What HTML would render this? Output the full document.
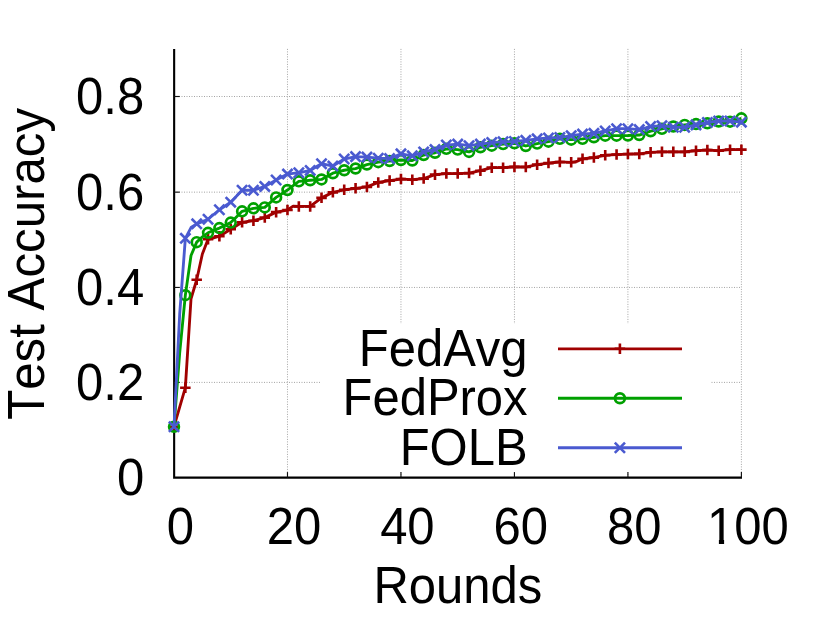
<!DOCTYPE html>
<html><head><meta charset="utf-8"><title>Test Accuracy vs Rounds</title>
<style>
html,body{margin:0;padding:0;background:#fff;}
body{width:830px;height:621px;overflow:hidden;}
svg{display:block;}
text{font-family:"Liberation Sans",sans-serif;font-size:49px;fill:#000;font-kerning:none;}
</style></head><body>
<svg width="830" height="621" viewBox="0 0 830 621">
<rect x="0" y="0" width="830" height="621" fill="#fff"/>
<g stroke="#a4a4a4" stroke-width="1" stroke-dasharray="1 1.5" fill="none"><line x1="287.48" y1="48.90" x2="287.48" y2="477.75"/><line x1="400.96" y1="48.90" x2="400.96" y2="477.75"/><line x1="514.44" y1="48.90" x2="514.44" y2="477.75"/><line x1="627.92" y1="48.90" x2="627.92" y2="477.75"/><line x1="741.40" y1="48.90" x2="741.40" y2="477.75"/><line x1="174.00" y1="382.40" x2="741.40" y2="382.40"/><line x1="174.00" y1="287.45" x2="741.40" y2="287.45"/><line x1="174.00" y1="192.15" x2="741.40" y2="192.15"/><line x1="174.00" y1="96.50" x2="741.40" y2="96.50"/></g>
<rect x="321" y="324" width="390" height="148" fill="#fff"/>
<path d="M174.15 48.90V477.60H742.00" stroke="#000" stroke-width="2.1" fill="none" stroke-linejoin="miter"/>
<g stroke="#111" stroke-width="1.15" fill="none">
<line x1="287.48" y1="477.60" x2="287.48" y2="472.10"/>
<line x1="400.96" y1="477.60" x2="400.96" y2="472.10"/>
<line x1="514.44" y1="477.60" x2="514.44" y2="472.10"/>
<line x1="627.92" y1="477.60" x2="627.92" y2="472.10"/>
<line x1="741.40" y1="477.60" x2="741.40" y2="472.10"/>
<line x1="174.15" y1="382.40" x2="179.75" y2="382.40"/>
<line x1="174.15" y1="287.45" x2="179.75" y2="287.45"/>
<line x1="174.15" y1="192.15" x2="179.75" y2="192.15"/>
<line x1="174.15" y1="96.50" x2="179.75" y2="96.50"/>
</g>
<polyline points="174.00,426.72 179.67,407.21 185.35,387.69 191.02,298.77 196.70,279.73 202.37,254.03 208.04,239.27 213.72,237.75 219.39,236.23 225.07,232.75 230.74,229.28 236.41,225.80 242.09,222.33 247.76,221.52 253.44,220.71 259.11,219.16 264.78,217.62 270.46,214.88 276.13,212.14 281.81,211.07 287.48,210.00 293.15,206.19 298.83,206.43 304.50,206.43 310.18,206.43 315.85,202.15 321.52,197.86 327.20,195.10 332.87,192.34 338.55,191.06 344.22,189.77 349.89,189.06 355.57,188.34 361.24,187.63 366.92,186.91 372.59,184.65 378.26,182.39 383.94,181.49 389.61,180.58 395.29,179.80 400.96,179.01 406.63,179.39 412.31,179.77 417.98,179.18 423.66,178.58 429.33,176.61 435.00,174.63 440.68,174.11 446.35,173.59 452.03,173.59 457.70,173.59 463.37,173.35 469.05,173.11 474.72,171.92 480.40,170.73 486.07,169.18 491.74,167.64 497.42,167.64 503.09,167.64 508.77,167.28 514.44,166.92 520.11,166.97 525.79,167.02 531.46,165.83 537.14,164.64 542.81,163.88 548.48,163.11 554.16,162.54 559.83,161.97 565.51,162.14 571.18,162.30 576.85,161.45 582.53,158.83 588.20,158.21 593.88,157.59 599.55,156.43 605.22,155.26 610.90,154.90 616.57,154.55 622.25,154.31 627.92,154.07 633.59,153.97 639.27,153.88 644.94,153.09 650.62,152.31 656.29,152.07 661.96,151.83 667.64,151.83 673.31,151.83 678.99,151.83 684.66,151.83 690.33,151.29 696.01,150.74 701.68,150.36 707.36,149.98 713.03,150.36 718.70,150.74 724.38,150.19 730.05,149.64 735.73,149.64 741.40,149.64" fill="none" stroke="#a00000" stroke-width="2.85" stroke-linejoin="round"/>
<path d="M168.75 426.72H179.25M174.00 421.47V431.97" stroke="#a00000" stroke-width="2.6" fill="none"/><path d="M180.10 387.69H190.60M185.35 382.44V392.94" stroke="#a00000" stroke-width="2.6" fill="none"/><path d="M191.45 279.73H201.95M196.70 274.48V284.98" stroke="#a00000" stroke-width="2.6" fill="none"/><path d="M202.79 239.27H213.29M208.04 234.02V244.52" stroke="#a00000" stroke-width="2.6" fill="none"/><path d="M214.14 236.23H224.64M219.39 230.98V241.48" stroke="#a00000" stroke-width="2.6" fill="none"/><path d="M225.49 229.28H235.99M230.74 224.03V234.53" stroke="#a00000" stroke-width="2.6" fill="none"/><path d="M236.84 222.33H247.34M242.09 217.08V227.58" stroke="#a00000" stroke-width="2.6" fill="none"/><path d="M248.19 220.71H258.69M253.44 215.46V225.96" stroke="#a00000" stroke-width="2.6" fill="none"/><path d="M259.53 217.62H270.03M264.78 212.37V222.87" stroke="#a00000" stroke-width="2.6" fill="none"/><path d="M270.88 212.14H281.38M276.13 206.89V217.39" stroke="#a00000" stroke-width="2.6" fill="none"/><path d="M282.23 210.00H292.73M287.48 204.75V215.25" stroke="#a00000" stroke-width="2.6" fill="none"/><path d="M293.58 206.43H304.08M298.83 201.18V211.68" stroke="#a00000" stroke-width="2.6" fill="none"/><path d="M304.93 206.43H315.43M310.18 201.18V211.68" stroke="#a00000" stroke-width="2.6" fill="none"/><path d="M316.27 197.86H326.77M321.52 192.61V203.11" stroke="#a00000" stroke-width="2.6" fill="none"/><path d="M327.62 192.34H338.12M332.87 187.09V197.59" stroke="#a00000" stroke-width="2.6" fill="none"/><path d="M338.97 189.77H349.47M344.22 184.52V195.02" stroke="#a00000" stroke-width="2.6" fill="none"/><path d="M350.32 188.34H360.82M355.57 183.09V193.59" stroke="#a00000" stroke-width="2.6" fill="none"/><path d="M361.67 186.91H372.17M366.92 181.66V192.16" stroke="#a00000" stroke-width="2.6" fill="none"/><path d="M373.01 182.39H383.51M378.26 177.14V187.64" stroke="#a00000" stroke-width="2.6" fill="none"/><path d="M384.36 180.58H394.86M389.61 175.33V185.83" stroke="#a00000" stroke-width="2.6" fill="none"/><path d="M395.71 179.01H406.21M400.96 173.76V184.26" stroke="#a00000" stroke-width="2.6" fill="none"/><path d="M407.06 179.77H417.56M412.31 174.52V185.02" stroke="#a00000" stroke-width="2.6" fill="none"/><path d="M418.41 178.58H428.91M423.66 173.33V183.83" stroke="#a00000" stroke-width="2.6" fill="none"/><path d="M429.75 174.63H440.25M435.00 169.38V179.88" stroke="#a00000" stroke-width="2.6" fill="none"/><path d="M441.10 173.59H451.60M446.35 168.34V178.84" stroke="#a00000" stroke-width="2.6" fill="none"/><path d="M452.45 173.59H462.95M457.70 168.34V178.84" stroke="#a00000" stroke-width="2.6" fill="none"/><path d="M463.80 173.11H474.30M469.05 167.86V178.36" stroke="#a00000" stroke-width="2.6" fill="none"/><path d="M475.15 170.73H485.65M480.40 165.48V175.98" stroke="#a00000" stroke-width="2.6" fill="none"/><path d="M486.49 167.64H496.99M491.74 162.39V172.89" stroke="#a00000" stroke-width="2.6" fill="none"/><path d="M497.84 167.64H508.34M503.09 162.39V172.89" stroke="#a00000" stroke-width="2.6" fill="none"/><path d="M509.19 166.92H519.69M514.44 161.67V172.17" stroke="#a00000" stroke-width="2.6" fill="none"/><path d="M520.54 167.02H531.04M525.79 161.77V172.27" stroke="#a00000" stroke-width="2.6" fill="none"/><path d="M531.89 164.64H542.39M537.14 159.39V169.89" stroke="#a00000" stroke-width="2.6" fill="none"/><path d="M543.23 163.11H553.73M548.48 157.86V168.36" stroke="#a00000" stroke-width="2.6" fill="none"/><path d="M554.58 161.97H565.08M559.83 156.72V167.22" stroke="#a00000" stroke-width="2.6" fill="none"/><path d="M565.93 162.30H576.43M571.18 157.05V167.55" stroke="#a00000" stroke-width="2.6" fill="none"/><path d="M577.28 158.83H587.78M582.53 153.58V164.08" stroke="#a00000" stroke-width="2.6" fill="none"/><path d="M588.63 157.59H599.13M593.88 152.34V162.84" stroke="#a00000" stroke-width="2.6" fill="none"/><path d="M599.97 155.26H610.47M605.22 150.01V160.51" stroke="#a00000" stroke-width="2.6" fill="none"/><path d="M611.32 154.55H621.82M616.57 149.30V159.80" stroke="#a00000" stroke-width="2.6" fill="none"/><path d="M622.67 154.07H633.17M627.92 148.82V159.32" stroke="#a00000" stroke-width="2.6" fill="none"/><path d="M634.02 153.88H644.52M639.27 148.63V159.13" stroke="#a00000" stroke-width="2.6" fill="none"/><path d="M645.37 152.31H655.87M650.62 147.06V157.56" stroke="#a00000" stroke-width="2.6" fill="none"/><path d="M656.71 151.83H667.21M661.96 146.58V157.08" stroke="#a00000" stroke-width="2.6" fill="none"/><path d="M668.06 151.83H678.56M673.31 146.58V157.08" stroke="#a00000" stroke-width="2.6" fill="none"/><path d="M679.41 151.83H689.91M684.66 146.58V157.08" stroke="#a00000" stroke-width="2.6" fill="none"/><path d="M690.76 150.74H701.26M696.01 145.49V155.99" stroke="#a00000" stroke-width="2.6" fill="none"/><path d="M702.11 149.98H712.61M707.36 144.73V155.23" stroke="#a00000" stroke-width="2.6" fill="none"/><path d="M713.45 150.74H723.95M718.70 145.49V155.99" stroke="#a00000" stroke-width="2.6" fill="none"/><path d="M724.80 149.64H735.30M730.05 144.39V154.89" stroke="#a00000" stroke-width="2.6" fill="none"/><path d="M736.15 149.64H746.65M741.40 144.39V154.89" stroke="#a00000" stroke-width="2.6" fill="none"/>
<polyline points="174.00,426.72 179.67,353.04 185.35,295.16 191.02,255.46 196.70,242.13 202.37,236.89 208.04,232.80 213.72,230.44 219.39,228.09 225.07,225.35 230.74,222.61 236.41,216.97 242.09,211.33 247.76,209.83 253.44,208.33 259.11,207.86 264.78,207.38 270.46,202.38 276.13,197.39 281.81,193.70 287.48,190.01 293.15,185.68 298.83,181.34 304.50,180.80 310.18,180.25 315.85,179.85 321.52,179.44 327.20,176.32 332.87,173.21 338.55,171.73 344.22,170.25 349.89,169.40 355.57,168.54 361.24,166.54 366.92,164.54 372.59,163.35 378.26,162.16 383.94,161.57 389.61,160.97 395.29,160.50 400.96,160.02 406.63,160.28 412.31,160.54 417.98,157.78 423.66,155.02 429.33,153.88 435.00,152.74 440.68,150.79 446.35,148.83 452.03,149.21 457.70,149.60 463.37,150.76 469.05,151.93 474.72,149.60 480.40,147.26 486.07,146.48 491.74,145.69 497.42,144.91 503.09,144.12 508.77,143.74 514.44,143.36 520.11,144.67 525.79,145.98 531.46,144.79 537.14,143.60 542.81,142.65 548.48,141.69 554.16,140.27 559.83,138.84 565.51,139.24 571.18,139.65 576.85,139.24 582.53,138.84 588.20,138.05 593.88,137.27 599.55,136.46 605.22,135.65 610.90,135.65 616.57,135.65 622.25,135.58 627.92,135.51 633.59,135.27 639.27,135.03 644.94,133.13 650.62,131.22 656.29,130.03 661.96,128.84 667.64,127.65 673.31,126.46 678.99,125.68 684.66,124.89 690.33,124.49 696.01,124.08 701.68,123.72 707.36,123.37 713.03,122.42 718.70,121.46 724.38,121.58 730.05,121.70 735.73,120.04 741.40,118.37" fill="none" stroke="#00a000" stroke-width="2.85" stroke-linejoin="round"/>
<circle cx="174.00" cy="426.72" r="4.9" stroke="#00a000" stroke-width="2.7" fill="none"/><circle cx="185.35" cy="295.16" r="4.9" stroke="#00a000" stroke-width="2.7" fill="none"/><circle cx="196.70" cy="242.13" r="4.9" stroke="#00a000" stroke-width="2.7" fill="none"/><circle cx="208.04" cy="232.80" r="4.9" stroke="#00a000" stroke-width="2.7" fill="none"/><circle cx="219.39" cy="228.09" r="4.9" stroke="#00a000" stroke-width="2.7" fill="none"/><circle cx="230.74" cy="222.61" r="4.9" stroke="#00a000" stroke-width="2.7" fill="none"/><circle cx="242.09" cy="211.33" r="4.9" stroke="#00a000" stroke-width="2.7" fill="none"/><circle cx="253.44" cy="208.33" r="4.9" stroke="#00a000" stroke-width="2.7" fill="none"/><circle cx="264.78" cy="207.38" r="4.9" stroke="#00a000" stroke-width="2.7" fill="none"/><circle cx="276.13" cy="197.39" r="4.9" stroke="#00a000" stroke-width="2.7" fill="none"/><circle cx="287.48" cy="190.01" r="4.9" stroke="#00a000" stroke-width="2.7" fill="none"/><circle cx="298.83" cy="181.34" r="4.9" stroke="#00a000" stroke-width="2.7" fill="none"/><circle cx="310.18" cy="180.25" r="4.9" stroke="#00a000" stroke-width="2.7" fill="none"/><circle cx="321.52" cy="179.44" r="4.9" stroke="#00a000" stroke-width="2.7" fill="none"/><circle cx="332.87" cy="173.21" r="4.9" stroke="#00a000" stroke-width="2.7" fill="none"/><circle cx="344.22" cy="170.25" r="4.9" stroke="#00a000" stroke-width="2.7" fill="none"/><circle cx="355.57" cy="168.54" r="4.9" stroke="#00a000" stroke-width="2.7" fill="none"/><circle cx="366.92" cy="164.54" r="4.9" stroke="#00a000" stroke-width="2.7" fill="none"/><circle cx="378.26" cy="162.16" r="4.9" stroke="#00a000" stroke-width="2.7" fill="none"/><circle cx="389.61" cy="160.97" r="4.9" stroke="#00a000" stroke-width="2.7" fill="none"/><circle cx="400.96" cy="160.02" r="4.9" stroke="#00a000" stroke-width="2.7" fill="none"/><circle cx="412.31" cy="160.54" r="4.9" stroke="#00a000" stroke-width="2.7" fill="none"/><circle cx="423.66" cy="155.02" r="4.9" stroke="#00a000" stroke-width="2.7" fill="none"/><circle cx="435.00" cy="152.74" r="4.9" stroke="#00a000" stroke-width="2.7" fill="none"/><circle cx="446.35" cy="148.83" r="4.9" stroke="#00a000" stroke-width="2.7" fill="none"/><circle cx="457.70" cy="149.60" r="4.9" stroke="#00a000" stroke-width="2.7" fill="none"/><circle cx="469.05" cy="151.93" r="4.9" stroke="#00a000" stroke-width="2.7" fill="none"/><circle cx="480.40" cy="147.26" r="4.9" stroke="#00a000" stroke-width="2.7" fill="none"/><circle cx="491.74" cy="145.69" r="4.9" stroke="#00a000" stroke-width="2.7" fill="none"/><circle cx="503.09" cy="144.12" r="4.9" stroke="#00a000" stroke-width="2.7" fill="none"/><circle cx="514.44" cy="143.36" r="4.9" stroke="#00a000" stroke-width="2.7" fill="none"/><circle cx="525.79" cy="145.98" r="4.9" stroke="#00a000" stroke-width="2.7" fill="none"/><circle cx="537.14" cy="143.60" r="4.9" stroke="#00a000" stroke-width="2.7" fill="none"/><circle cx="548.48" cy="141.69" r="4.9" stroke="#00a000" stroke-width="2.7" fill="none"/><circle cx="559.83" cy="138.84" r="4.9" stroke="#00a000" stroke-width="2.7" fill="none"/><circle cx="571.18" cy="139.65" r="4.9" stroke="#00a000" stroke-width="2.7" fill="none"/><circle cx="582.53" cy="138.84" r="4.9" stroke="#00a000" stroke-width="2.7" fill="none"/><circle cx="593.88" cy="137.27" r="4.9" stroke="#00a000" stroke-width="2.7" fill="none"/><circle cx="605.22" cy="135.65" r="4.9" stroke="#00a000" stroke-width="2.7" fill="none"/><circle cx="616.57" cy="135.65" r="4.9" stroke="#00a000" stroke-width="2.7" fill="none"/><circle cx="627.92" cy="135.51" r="4.9" stroke="#00a000" stroke-width="2.7" fill="none"/><circle cx="639.27" cy="135.03" r="4.9" stroke="#00a000" stroke-width="2.7" fill="none"/><circle cx="650.62" cy="131.22" r="4.9" stroke="#00a000" stroke-width="2.7" fill="none"/><circle cx="661.96" cy="128.84" r="4.9" stroke="#00a000" stroke-width="2.7" fill="none"/><circle cx="673.31" cy="126.46" r="4.9" stroke="#00a000" stroke-width="2.7" fill="none"/><circle cx="684.66" cy="124.89" r="4.9" stroke="#00a000" stroke-width="2.7" fill="none"/><circle cx="696.01" cy="124.08" r="4.9" stroke="#00a000" stroke-width="2.7" fill="none"/><circle cx="707.36" cy="123.37" r="4.9" stroke="#00a000" stroke-width="2.7" fill="none"/><circle cx="718.70" cy="121.46" r="4.9" stroke="#00a000" stroke-width="2.7" fill="none"/><circle cx="730.05" cy="121.70" r="4.9" stroke="#00a000" stroke-width="2.7" fill="none"/><circle cx="741.40" cy="118.37" r="4.9" stroke="#00a000" stroke-width="2.7" fill="none"/>
<polyline points="174.00,426.72 179.67,314.48 185.35,238.32 191.02,227.56 196.70,223.85 202.37,221.57 208.04,219.28 213.72,214.52 219.39,209.76 225.07,205.95 230.74,202.15 236.41,196.20 242.09,190.25 247.76,190.25 253.44,190.25 259.11,188.34 264.78,186.44 270.46,183.23 276.13,180.01 281.81,177.04 287.48,174.06 293.15,173.40 298.83,172.73 304.50,171.56 310.18,170.40 315.85,167.06 321.52,163.73 327.20,164.90 332.87,166.07 338.55,162.54 344.22,159.02 349.89,157.83 355.57,156.64 361.24,156.88 366.92,157.12 372.59,157.69 378.26,158.26 383.94,158.45 389.61,158.64 395.29,156.24 400.96,153.83 406.63,154.83 412.31,155.83 417.98,153.88 423.66,151.93 429.33,150.76 435.00,149.60 440.68,147.31 446.35,145.03 452.03,144.55 457.70,144.07 463.37,144.88 469.05,145.69 474.72,144.88 480.40,144.07 486.07,143.31 491.74,142.55 497.42,142.17 503.09,141.79 508.77,141.62 514.44,141.46 520.11,140.91 525.79,140.36 531.46,139.60 537.14,138.84 542.81,138.43 548.48,138.03 554.16,137.79 559.83,137.55 565.51,136.60 571.18,135.65 576.85,134.86 582.53,134.08 588.20,133.72 593.88,133.36 599.55,132.17 605.22,130.98 610.90,129.82 616.57,128.65 622.25,128.70 627.92,128.75 633.59,129.18 639.27,129.60 644.94,128.03 650.62,126.46 656.29,126.06 661.96,125.65 667.64,126.46 673.31,127.27 678.99,127.27 684.66,127.27 690.33,126.08 696.01,124.89 701.68,123.70 707.36,122.51 713.03,121.75 718.70,120.99 724.38,120.99 730.05,120.99 735.73,121.58 741.40,122.18" fill="none" stroke="#4a5ad0" stroke-width="2.85" stroke-linejoin="round"/>
<path d="M168.90 421.62L179.10 431.82M168.90 431.82L179.10 421.62" stroke="#4a5ad0" stroke-width="2.6" fill="none"/><path d="M180.25 233.22L190.45 243.42M180.25 243.42L190.45 233.22" stroke="#4a5ad0" stroke-width="2.6" fill="none"/><path d="M191.60 218.75L201.80 228.95M191.60 228.95L201.80 218.75" stroke="#4a5ad0" stroke-width="2.6" fill="none"/><path d="M202.94 214.18L213.14 224.38M202.94 224.38L213.14 214.18" stroke="#4a5ad0" stroke-width="2.6" fill="none"/><path d="M214.29 204.66L224.49 214.86M214.29 214.86L224.49 204.66" stroke="#4a5ad0" stroke-width="2.6" fill="none"/><path d="M225.64 197.05L235.84 207.25M225.64 207.25L235.84 197.05" stroke="#4a5ad0" stroke-width="2.6" fill="none"/><path d="M236.99 185.15L247.19 195.35M236.99 195.35L247.19 185.15" stroke="#4a5ad0" stroke-width="2.6" fill="none"/><path d="M248.34 185.15L258.54 195.35M248.34 195.35L258.54 185.15" stroke="#4a5ad0" stroke-width="2.6" fill="none"/><path d="M259.68 181.34L269.88 191.54M259.68 191.54L269.88 181.34" stroke="#4a5ad0" stroke-width="2.6" fill="none"/><path d="M271.03 174.91L281.23 185.11M271.03 185.11L281.23 174.91" stroke="#4a5ad0" stroke-width="2.6" fill="none"/><path d="M282.38 168.96L292.58 179.16M282.38 179.16L292.58 168.96" stroke="#4a5ad0" stroke-width="2.6" fill="none"/><path d="M293.73 167.63L303.93 177.83M293.73 177.83L303.93 167.63" stroke="#4a5ad0" stroke-width="2.6" fill="none"/><path d="M305.08 165.30L315.28 175.50M305.08 175.50L315.28 165.30" stroke="#4a5ad0" stroke-width="2.6" fill="none"/><path d="M316.42 158.63L326.62 168.83M316.42 168.83L326.62 158.63" stroke="#4a5ad0" stroke-width="2.6" fill="none"/><path d="M327.77 160.97L337.97 171.17M327.77 171.17L337.97 160.97" stroke="#4a5ad0" stroke-width="2.6" fill="none"/><path d="M339.12 153.92L349.32 164.12M339.12 164.12L349.32 153.92" stroke="#4a5ad0" stroke-width="2.6" fill="none"/><path d="M350.47 151.54L360.67 161.74M350.47 161.74L360.67 151.54" stroke="#4a5ad0" stroke-width="2.6" fill="none"/><path d="M361.82 152.02L372.02 162.22M361.82 162.22L372.02 152.02" stroke="#4a5ad0" stroke-width="2.6" fill="none"/><path d="M373.16 153.16L383.36 163.36M373.16 163.36L383.36 153.16" stroke="#4a5ad0" stroke-width="2.6" fill="none"/><path d="M384.51 153.54L394.71 163.74M384.51 163.74L394.71 153.54" stroke="#4a5ad0" stroke-width="2.6" fill="none"/><path d="M395.86 148.73L406.06 158.93M395.86 158.93L406.06 148.73" stroke="#4a5ad0" stroke-width="2.6" fill="none"/><path d="M407.21 150.73L417.41 160.93M407.21 160.93L417.41 150.73" stroke="#4a5ad0" stroke-width="2.6" fill="none"/><path d="M418.56 146.83L428.76 157.03M418.56 157.03L428.76 146.83" stroke="#4a5ad0" stroke-width="2.6" fill="none"/><path d="M429.90 144.50L440.10 154.70M429.90 154.70L440.10 144.50" stroke="#4a5ad0" stroke-width="2.6" fill="none"/><path d="M441.25 139.93L451.45 150.13M441.25 150.13L451.45 139.93" stroke="#4a5ad0" stroke-width="2.6" fill="none"/><path d="M452.60 138.97L462.80 149.17M452.60 149.17L462.80 138.97" stroke="#4a5ad0" stroke-width="2.6" fill="none"/><path d="M463.95 140.59L474.15 150.79M463.95 150.79L474.15 140.59" stroke="#4a5ad0" stroke-width="2.6" fill="none"/><path d="M475.30 138.97L485.50 149.17M475.30 149.17L485.50 138.97" stroke="#4a5ad0" stroke-width="2.6" fill="none"/><path d="M486.64 137.45L496.84 147.65M486.64 147.65L496.84 137.45" stroke="#4a5ad0" stroke-width="2.6" fill="none"/><path d="M497.99 136.69L508.19 146.89M497.99 146.89L508.19 136.69" stroke="#4a5ad0" stroke-width="2.6" fill="none"/><path d="M509.34 136.36L519.54 146.56M509.34 146.56L519.54 136.36" stroke="#4a5ad0" stroke-width="2.6" fill="none"/><path d="M520.69 135.26L530.89 145.46M520.69 145.46L530.89 135.26" stroke="#4a5ad0" stroke-width="2.6" fill="none"/><path d="M532.04 133.74L542.24 143.94M532.04 143.94L542.24 133.74" stroke="#4a5ad0" stroke-width="2.6" fill="none"/><path d="M543.38 132.93L553.58 143.13M543.38 143.13L553.58 132.93" stroke="#4a5ad0" stroke-width="2.6" fill="none"/><path d="M554.73 132.45L564.93 142.65M554.73 142.65L564.93 132.45" stroke="#4a5ad0" stroke-width="2.6" fill="none"/><path d="M566.08 130.55L576.28 140.75M566.08 140.75L576.28 130.55" stroke="#4a5ad0" stroke-width="2.6" fill="none"/><path d="M577.43 128.98L587.63 139.18M577.43 139.18L587.63 128.98" stroke="#4a5ad0" stroke-width="2.6" fill="none"/><path d="M588.78 128.26L598.98 138.46M588.78 138.46L598.98 128.26" stroke="#4a5ad0" stroke-width="2.6" fill="none"/><path d="M600.12 125.88L610.32 136.08M600.12 136.08L610.32 125.88" stroke="#4a5ad0" stroke-width="2.6" fill="none"/><path d="M611.47 123.55L621.67 133.75M611.47 133.75L621.67 123.55" stroke="#4a5ad0" stroke-width="2.6" fill="none"/><path d="M622.82 123.65L633.02 133.85M622.82 133.85L633.02 123.65" stroke="#4a5ad0" stroke-width="2.6" fill="none"/><path d="M634.17 124.50L644.37 134.70M634.17 134.70L644.37 124.50" stroke="#4a5ad0" stroke-width="2.6" fill="none"/><path d="M645.52 121.36L655.72 131.56M645.52 131.56L655.72 121.36" stroke="#4a5ad0" stroke-width="2.6" fill="none"/><path d="M656.86 120.55L667.06 130.75M656.86 130.75L667.06 120.55" stroke="#4a5ad0" stroke-width="2.6" fill="none"/><path d="M668.21 122.17L678.41 132.37M668.21 132.37L678.41 122.17" stroke="#4a5ad0" stroke-width="2.6" fill="none"/><path d="M679.56 122.17L689.76 132.37M679.56 132.37L689.76 122.17" stroke="#4a5ad0" stroke-width="2.6" fill="none"/><path d="M690.91 119.79L701.11 129.99M690.91 129.99L701.11 119.79" stroke="#4a5ad0" stroke-width="2.6" fill="none"/><path d="M702.26 117.41L712.46 127.61M702.26 127.61L712.46 117.41" stroke="#4a5ad0" stroke-width="2.6" fill="none"/><path d="M713.60 115.89L723.80 126.09M713.60 126.09L723.80 115.89" stroke="#4a5ad0" stroke-width="2.6" fill="none"/><path d="M724.95 115.89L735.15 126.09M724.95 126.09L735.15 115.89" stroke="#4a5ad0" stroke-width="2.6" fill="none"/><path d="M736.30 117.08L746.50 127.28M736.30 127.28L746.50 117.08" stroke="#4a5ad0" stroke-width="2.6" fill="none"/>
<text transform="translate(527.60,365.60) scale(1,1.04)" text-anchor="end">FedAvg</text>
<line x1="558" y1="348.80" x2="682" y2="348.80" stroke="#a00000" stroke-width="2.85"/>
<path d="M614.65 348.80H625.15M619.90 343.55V354.05" stroke="#a00000" stroke-width="2.6" fill="none"/>
<text transform="translate(527.60,415.05) scale(1,1.04)" text-anchor="end">FedProx</text>
<line x1="558" y1="398.25" x2="682" y2="398.25" stroke="#00a000" stroke-width="2.85"/>
<circle cx="619.90" cy="398.25" r="4.9" stroke="#00a000" stroke-width="2.7" fill="none"/>
<text transform="translate(527.60,464.55) scale(1,1.04)" text-anchor="end">FOLB</text>
<line x1="558" y1="447.75" x2="682" y2="447.75" stroke="#4a5ad0" stroke-width="2.85"/>
<path d="M614.80 442.65L625.00 452.85M614.80 452.85L625.00 442.65" stroke="#4a5ad0" stroke-width="2.6" fill="none"/>
<text transform="translate(144.20,495.10) scale(1,1.05)" text-anchor="end">0</text>
<text transform="translate(144.20,399.90) scale(1,1.05)" text-anchor="end">0.2</text>
<text transform="translate(144.20,304.95) scale(1,1.05)" text-anchor="end">0.4</text>
<text transform="translate(144.20,209.65) scale(1,1.05)" text-anchor="end">0.6</text>
<text transform="translate(144.20,114.00) scale(1,1.05)" text-anchor="end">0.8</text>
<text transform="translate(180.40,544.20) scale(1,1.05)" text-anchor="middle">0</text>
<text transform="translate(293.88,544.20) scale(1,1.05)" text-anchor="middle">20</text>
<text transform="translate(407.36,544.20) scale(1,1.05)" text-anchor="middle">40</text>
<text transform="translate(520.84,544.20) scale(1,1.05)" text-anchor="middle">60</text>
<text transform="translate(634.32,544.20) scale(1,1.05)" text-anchor="middle">80</text>
<text transform="translate(747.80,544.20) scale(1,1.05)" text-anchor="middle">100</text>
<rect x="708" y="539.3" width="10.9" height="5.5" fill="#fff"/><rect x="724.1" y="539.3" width="9" height="5.5" fill="#fff"/>
<text transform="translate(457.80,603.00) scale(1,1.04)" text-anchor="middle">Rounds</text>
<text transform="translate(44.2,263.9) rotate(-90) scale(1.005,1.04)" text-anchor="middle">Test Accuracy</text>
</svg></body></html>
